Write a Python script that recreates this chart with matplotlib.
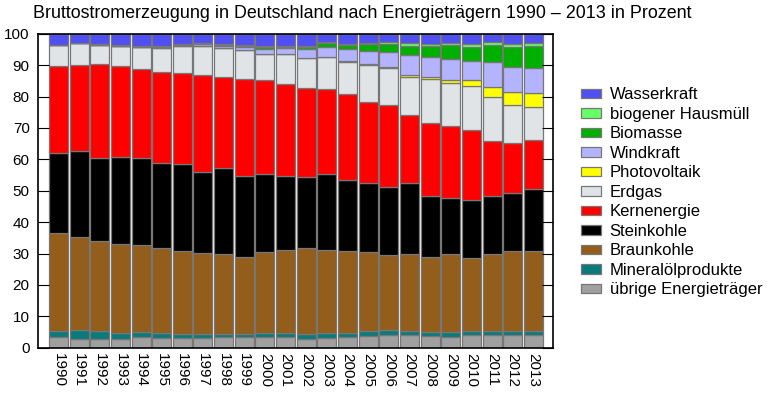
import matplotlib
matplotlib.use("Agg")
import matplotlib.pyplot as plt
import numpy as np

plt.rcParams['font.family'] = ['Liberation Sans', 'DejaVu Sans']

years = [str(y) for y in range(1990, 2014)]

# shares in percent, stacking order bottom -> top
uebrige = [3.3, 2.9, 2.9, 2.9, 3.3, 3.1, 3.1, 3.1, 3.3, 3.3, 3.3, 3.3, 2.9, 3.1, 3.3, 3.6, 3.9, 3.9, 3.6, 3.3, 3.9, 4.1, 4.1, 4.1]
mineraloel = [1.9, 2.6, 2.3, 1.9, 1.6, 1.6, 1.3, 1.3, 1.1, 1.1, 1.3, 1.3, 1.5, 1.6, 1.4, 1.6, 1.6, 1.5, 1.4, 1.7, 1.5, 1.1, 1.1, 1.1]
braunkohle = [31.4, 29.6, 28.9, 28.1, 27.8, 26.9, 26.4, 25.7, 25.3, 24.6, 26.0, 26.4, 27.2, 26.3, 26.1, 25.3, 23.9, 24.3, 23.8, 24.7, 23.2, 24.5, 25.7, 25.7]
steinkohle = [25.5, 27.7, 26.4, 27.7, 27.6, 27.3, 27.7, 26.0, 27.4, 25.7, 24.7, 23.7, 22.9, 24.3, 22.7, 21.8, 21.8, 22.6, 19.5, 18.1, 18.3, 18.6, 18.3, 19.7]
kernenergie = [27.7, 27.3, 29.7, 29.1, 28.5, 28.9, 29.0, 30.7, 29.1, 30.9, 29.8, 29.3, 28.1, 27.1, 27.3, 26.1, 26.1, 21.9, 23.4, 22.7, 22.3, 17.6, 15.9, 15.5]
erdgas = [6.5, 6.8, 6.3, 6.4, 6.9, 7.7, 8.6, 9.4, 9.1, 9.3, 8.5, 9.5, 9.7, 10.2, 10.3, 11.7, 11.7, 12.1, 13.8, 13.7, 14.1, 14.0, 12.2, 10.5]
photovoltaik = [0, 0, 0, 0, 0, 0, 0, 0, 0, 0, 0, 0, 0, 0, 0.1, 0.2, 0.3, 0.5, 0.7, 0.9, 1.9, 3.2, 4.1, 4.6]
windkraft = [0, 0, 0, 0.1, 0.2, 0.3, 0.3, 0.5, 0.8, 1.0, 1.6, 1.8, 2.7, 3.2, 3.9, 4.3, 5.0, 6.4, 6.4, 6.7, 6.1, 8.0, 8.1, 8.0]
biomasse = [0, 0, 0, 0, 0, 0, 0, 0, 0.2, 0.1, 0.5, 0.6, 0.7, 1.1, 1.3, 2.1, 2.5, 3.0, 3.5, 4.5, 4.6, 5.4, 6.4, 6.9]
hausmuell = [0.2, 0.2, 0.3, 0.3, 0.3, 0.4, 0.3, 0.3, 0.3, 0.3, 0.3, 0.3, 0.3, 0.3, 0.3, 0.3, 0.4, 0.7, 0.5, 0.7, 0.7, 0.7, 0.7, 0.8]
wasserkraft = [3.5, 2.9, 3.2, 3.5, 3.8, 3.8, 3.3, 3.0, 3.3, 3.7, 4.0, 3.8, 4.0, 2.8, 3.3, 3.0, 2.8, 3.1, 3.3, 3.1, 3.3, 2.8, 3.3, 3.0]

series = [
    ("übrige Energieträger", uebrige, "#a0a0a0"),
    ("Mineralölprodukte", mineraloel, "#0a7a7a"),
    ("Braunkohle", braunkohle, "#935d1b"),
    ("Steinkohle", steinkohle, "#000000"),
    ("Kernenergie", kernenergie, "#ff0000"),
    ("Erdgas", erdgas, "#e1e4e7"),
    ("Photovoltaik", photovoltaik, "#ffff00"),
    ("Windkraft", windkraft, "#b3b3ff"),
    ("Biomasse", biomasse, "#00b000"),
    ("biogener Hausmüll", hausmuell, "#66ff66"),
    ("Wasserkraft", wasserkraft, "#5050f2"),
]

fig = plt.figure(figsize=(7.74, 3.97), dpi=100)
ax = fig.add_axes([38 / 774, 49.3 / 397, 515 / 774, 314 / 397])

x = np.arange(len(years))
bottom = np.zeros(len(years))
handles = []
for name, vals, col in series:
    b = ax.bar(x, vals, width=0.92, bottom=bottom, color=col,
               edgecolor="#777777", linewidth=0.9, label=name)
    bottom += np.array(vals)
    handles.append(b)

ax.set_xlim(-0.99, 23.95)
ax.set_ylim(0, 100)
ax.set_yticks(range(0, 101, 10))
ax.set_xticks(x)
ax.set_xticklabels(years, rotation=-90, fontsize=11)
ax.tick_params(axis="x", length=0, pad=4)
ax.tick_params(axis="y", labelsize=11, direction="in", length=8, pad=6,
               left=True, right=True, labelright=False)
for s in ax.spines.values():
    s.set_linewidth(1.2)

fig.text(33 / 774, 1 - 14 / 397, "Bruttostromerzeugung in Deutschland nach Energieträgern 1990 – 2013 in Prozent",
         fontsize=12.9, va="center", ha="left")

leg = fig.legend(handles[::-1], [s[0] for s in series][::-1],
                 loc="upper left", bbox_to_anchor=(573 / 774, 1 - 79 / 397),
                 frameon=False, fontsize=12, borderpad=0, labelspacing=0.27,
                 handlelength=1.2, handleheight=0.5, handletextpad=0.5)

fig.savefig("out.png", dpi=100)
